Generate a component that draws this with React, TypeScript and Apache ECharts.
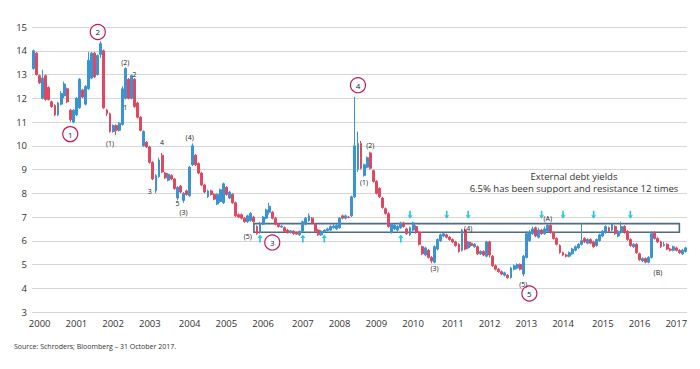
import React, { useEffect, useRef } from "react";
import * as echarts from "echarts";

// Monthly candles [open, close, low, high], Jan 2000 – Oct 2017
const y2000 = [
  [13.25, 14.0, 13.2, 14.05], [13.9, 13.0, 12.95, 13.95], [12.95, 12.65, 12.6, 13.0], [12.0, 12.85, 11.95, 13.2],
  [12.95, 11.95, 11.9, 13.0], [12.45, 11.95, 11.9, 12.5], [11.85, 11.65, 11.6, 11.9], [11.7, 11.3, 11.25, 11.75],
  [11.3, 11.8, 11.25, 11.85], [11.75, 12.2, 11.7, 12.3], [12.1, 12.6, 12.0, 12.7], [12.4, 11.85, 11.8, 12.45],
];
const y2001 = [
  [11.5, 11.1, 11.0, 11.55], [11.0, 11.5, 10.95, 11.55], [11.3, 12.0, 11.25, 12.05], [11.6, 12.8, 11.55, 12.85],
  [12.35, 12.05, 12.0, 12.4], [11.75, 12.5, 11.7, 12.55], [12.4, 13.6, 12.35, 13.95], [12.85, 13.9, 12.8, 13.95],
  [13.9, 12.9, 12.85, 13.95], [13.0, 13.8, 12.95, 13.85], [13.85, 14.3, 13.7, 14.4], [14.0, 11.6, 11.55, 14.05],
];
const y2002 = [
  [11.5, 11.35, 11.25, 11.55], [11.35, 10.6, 10.55, 11.4], [10.6, 10.85, 10.55, 10.9], [10.85, 10.65, 10.45, 10.9],
  [10.65, 10.95, 10.6, 11.0], [10.9, 12.4, 10.85, 12.5], [12.0, 13.25, 11.95, 13.3], [12.8, 12.0, 11.95, 12.85],
  [12.0, 12.95, 11.95, 13.0], [12.8, 11.65, 11.6, 12.85], [11.8, 11.2, 11.15, 11.85], [11.2, 10.65, 10.6, 11.25],
];
const y2003 = [
  [10.0, 10.6, 9.95, 10.65], [10.15, 9.95, 9.9, 10.2], [9.95, 9.3, 9.25, 10.0], [9.3, 8.6, 8.55, 9.35],
  [8.1, 8.75, 8.0, 8.8], [8.7, 9.4, 8.65, 9.5], [9.6, 8.9, 8.85, 9.7], [8.85, 8.65, 8.6, 8.9],
  [8.55, 8.8, 8.5, 8.85], [8.75, 8.6, 8.55, 8.8], [8.6, 8.2, 8.15, 8.65], [7.8, 8.25, 7.7, 8.3],
];
const y2004 = [
  [8.3, 8.05, 8.0, 8.35], [7.7, 8.0, 7.6, 8.05], [8.1, 7.95, 7.9, 8.15], [7.9, 9.1, 7.85, 9.15],
  [9.2, 10.0, 9.15, 10.1], [9.6, 9.2, 9.15, 9.65], [9.25, 8.85, 8.8, 9.3], [8.85, 8.35, 8.3, 8.9],
  [8.35, 8.05, 8.0, 8.4], [7.85, 8.1, 7.8, 8.15], [8.1, 7.95, 7.9, 8.15], [7.95, 7.75, 7.7, 8.0],
];
const y2005 = [
  [7.55, 7.95, 7.5, 8.0], [7.65, 8.15, 7.6, 8.2], [7.6, 8.4, 7.55, 8.45], [8.25, 7.95, 7.9, 8.3],
  [7.8, 8.05, 7.75, 8.1], [7.95, 7.6, 7.55, 8.0], [7.6, 7.05, 7.0, 7.65], [7.1, 7.0, 6.95, 7.15],
  [7.1, 6.95, 6.9, 7.15], [6.95, 6.8, 6.75, 7.0], [6.8, 7.05, 6.75, 7.1], [6.85, 7.15, 6.8, 7.2],
];
const y2006 = [
  [7.0, 6.8, 6.75, 7.05], [6.6, 6.3, 6.25, 6.65], [6.35, 6.75, 6.3, 6.8], [6.7, 7.0, 6.65, 7.05],
  [6.95, 7.3, 6.9, 7.35], [7.2, 7.45, 7.1, 7.6], [7.2, 6.95, 6.9, 7.25], [6.95, 6.7, 6.65, 7.0],
  [6.7, 6.6, 6.55, 6.75], [6.58, 6.62, 6.55, 6.65], [6.55, 6.4, 6.35, 6.6], [6.45, 6.35, 6.3, 6.5],
];
const y2007 = [
  [6.35, 6.42, 6.3, 6.45], [6.4, 6.3, 6.25, 6.45], [6.35, 6.28, 6.25, 6.38], [6.25, 6.4, 6.2, 6.42],
  [6.4, 6.8, 6.35, 6.85], [6.7, 6.95, 6.65, 7.0], [6.85, 7.05, 6.8, 7.15], [6.95, 6.75, 6.7, 7.0],
  [6.7, 6.4, 6.35, 6.75], [6.45, 6.25, 6.2, 6.5], [6.25, 6.4, 6.2, 6.45], [6.38, 6.45, 6.35, 6.48],
];
const y2008 = [
  [6.42, 6.5, 6.4, 6.55], [6.45, 6.6, 6.4, 6.65], [6.55, 6.62, 6.5, 6.7], [6.5, 6.65, 6.45, 6.7],
  [6.55, 6.95, 6.5, 7.0], [7.05, 6.95, 6.9, 7.1], [6.95, 7.05, 6.9, 7.1], [7.0, 6.98, 6.95, 7.05],
  [7.05, 7.85, 7.0, 7.9], [7.85, 10.0, 7.8, 12.05], [9.0, 10.1, 8.9, 10.6], [10.1, 9.05, 9.0, 10.2],
];
const y2009 = [
  [8.75, 9.2, 8.7, 9.25], [9.1, 9.5, 9.05, 9.55], [9.7, 9.05, 9.0, 9.75], [8.95, 8.5, 8.45, 9.0],
  [8.5, 8.0, 7.95, 8.55], [8.2, 7.85, 7.8, 8.25], [7.8, 7.4, 7.35, 7.85], [7.35, 7.15, 7.1, 7.4],
  [7.14, 6.6, 6.55, 7.2], [6.35, 6.7, 6.3, 6.75], [6.5, 6.65, 6.45, 6.7], [6.45, 6.6, 6.4, 6.65],
];
const y2010 = [
  [6.55, 6.75, 6.5, 6.8], [6.75, 6.6, 6.55, 6.8], [6.5, 6.3, 6.25, 6.55], [6.25, 6.55, 6.2, 6.6],
  [6.45, 6.75, 6.4, 6.8], [6.6, 6.35, 6.3, 6.65], [6.35, 5.85, 5.8, 6.4], [5.75, 5.45, 5.4, 5.8],
  [5.4, 5.7, 5.35, 5.75], [5.6, 5.3, 5.25, 5.65], [5.3, 5.15, 5.05, 5.35], [5.1, 5.75, 5.05, 5.8],
];
const y2011 = [
  [5.65, 6.05, 5.6, 6.1], [6.0, 6.25, 5.95, 6.3], [6.2, 6.3, 6.15, 6.35], [6.25, 6.15, 6.1, 6.3],
  [6.15, 6.05, 6.0, 6.2], [6.05, 5.95, 5.9, 6.1], [5.95, 5.8, 5.75, 6.0], [5.85, 5.55, 5.5, 5.9],
  [5.6, 6.45, 5.55, 6.5], [6.45, 5.65, 5.6, 6.5], [5.7, 5.95, 5.65, 6.0], [5.9, 5.8, 5.75, 5.95],
];
const y2012 = [
  [5.75, 5.85, 5.7, 5.9], [5.75, 5.45, 5.4, 5.8], [5.45, 5.55, 5.4, 5.6], [5.55, 5.4, 5.35, 5.6],
  [5.35, 5.95, 5.3, 6.0], [5.95, 5.4, 5.3, 6.0], [5.35, 4.95, 4.9, 5.4], [4.95, 4.8, 4.75, 5.0],
  [4.8, 4.7, 4.65, 4.85], [4.7, 4.6, 4.55, 4.75], [4.55, 4.65, 4.5, 4.7], [4.55, 4.45, 4.4, 4.6],
];
const y2013 = [
  [4.45, 4.85, 4.4, 4.9], [4.8, 4.95, 4.75, 5.0], [4.85, 5.0, 4.8, 5.05], [5.0, 4.8, 4.75, 5.05],
  [4.6, 5.35, 4.5, 5.4], [5.3, 6.3, 5.25, 6.4], [6.0, 6.35, 5.95, 6.45], [6.3, 6.5, 6.25, 6.6],
  [6.55, 6.2, 6.15, 6.6], [6.15, 6.45, 6.1, 6.55], [6.45, 6.3, 6.25, 6.5], [6.3, 6.5, 6.25, 6.6],
];
const y2014 = [
  [6.4, 6.65, 6.35, 6.7], [6.65, 6.35, 6.3, 6.7], [6.35, 6.1, 6.05, 6.4], [6.1, 5.85, 5.8, 6.15],
  [5.8, 5.5, 5.45, 5.85], [5.5, 5.4, 5.35, 5.55], [5.4, 5.35, 5.3, 5.45], [5.35, 5.5, 5.3, 5.55],
  [5.45, 5.65, 5.4, 5.7], [5.6, 5.75, 5.55, 5.8], [5.7, 5.85, 5.65, 5.9], [5.85, 6.0, 5.8, 6.72],
];
const y2015 = [
  [6.1, 5.95, 5.9, 6.15], [5.9, 6.05, 5.85, 6.1], [6.05, 5.9, 5.85, 6.1], [5.95, 5.75, 5.7, 6.0],
  [5.8, 6.05, 5.75, 6.1], [6.0, 6.25, 5.95, 6.3], [6.2, 6.4, 6.15, 6.45], [6.35, 6.6, 6.3, 6.65],
  [6.55, 6.4, 6.35, 6.6], [6.45, 6.7, 6.4, 6.75], [6.6, 6.3, 6.25, 6.65], [6.2, 6.4, 6.15, 6.45],
];
const y2016 = [
  [6.35, 6.6, 6.3, 6.8], [6.6, 6.35, 6.3, 6.65], [6.4, 6.05, 6.0, 6.45], [6.05, 5.8, 5.75, 6.1],
  [5.75, 5.85, 5.7, 5.9], [5.85, 5.5, 5.45, 5.9], [5.45, 5.2, 5.15, 5.5], [5.15, 5.25, 5.1, 5.3],
  [5.25, 5.1, 5.05, 5.3], [5.1, 5.3, 5.05, 5.35], [5.3, 6.3, 5.25, 6.4], [6.35, 6.1, 6.05, 6.4],
];
const y2017 = [
  [6.1, 5.95, 5.9, 6.15], [5.95, 5.75, 5.7, 6.0], [5.8, 5.85, 5.75, 5.95], [5.85, 5.65, 5.6, 5.9],
  [5.65, 5.6, 5.55, 5.7], [5.6, 5.75, 5.55, 5.8], [5.7, 5.6, 5.55, 5.75], [5.6, 5.5, 5.45, 5.65],
  [5.45, 5.6, 5.4, 5.65], [5.55, 5.7, 5.5, 5.75],
];

const yearLabels = ["2000","2001","2002","2003","2004","2005","2006","2007","2008","2009","2010","2011","2012","2013","2014","2015","2016","2017"];
const yearLabelAt = [2, 14, 26, 38, 51, 63, 75, 88, 100, 112, 124, 137, 149, 161, 173, 186, 198, 210];

const circleNotes: [string, number, string][] = [
  ["2001-01", 10.49, "1"], ["2001-10", 14.79, "2"], ["2006-07", 5.93, "3"], ["2008-11", 12.55, "4"], ["2013-07", 3.78, "5"],
];
const textNotes: [string, number, string][] = [
  ["2002-02", 10.1, "(1)"], ["2002-07", 13.5, "(2)"], ["2002-07", 11.6, "1"], ["2002-10", 13.0, "2"],
  ["2003-03", 8.08, "3"], ["2003-07", 10.15, "4"], ["2003-12", 7.57, "5"], ["2004-02", 7.2, "(3)"],
  ["2004-04", 10.36, "(4)"], ["2005-11", 6.18, "(5)"], ["2009-01", 8.46, "(1)"], ["2009-03", 10.02, "(2)"],
  ["2011-11", 6.52, "(4)"], ["2010-12", 4.83, "(3)"], ["2013-05", 4.16, "(5)"], ["2014-01", 6.94, "(A)"],
  ["2017-01", 4.66, "(B)"],
];
const supportArrows = ["2006-03", "2007-05", "2007-12", "2010-01"];
const resistanceArrows = ["2010-04", "2011-04", "2011-11", "2013-11", "2014-06", "2015-04", "2016-04"];
const bandLow = 6.36;
const bandHigh = 6.72;
const bandStart = "2006-01";
const bandEnd = "2017-08";

const UP = "#3a93d3";
const DOWN = "#e0485f";
const ARROW = "#25c9e1";
const FONT = "Open Sans";

export default function App() {
  const ref = useRef<HTMLDivElement>(null);
  useEffect(() => {
    if (!ref.current) return;
    const chart = echarts.init(ref.current, null, { renderer: "svg" });
    const ohlc = [...y2000, ...y2001, ...y2002, ...y2003, ...y2004, ...y2005, ...y2006, ...y2007, ...y2008,
      ...y2009, ...y2010, ...y2011, ...y2012, ...y2013, ...y2014, ...y2015, ...y2016, ...y2017];
    const months: string[] = [];
    for (let k = 0; k < ohlc.length; k++) {
      const yr = 2000 + Math.floor(k / 12);
      const m = (k % 12) + 1;
      months.push(`${yr}-${m < 10 ? "0" + m : m}`);
    }
    const labelMap: Record<number, string> = {};
    yearLabelAt.forEach((idx, j) => (labelMap[idx] = yearLabels[j]));

    const upPath = "path://M3,0 L6,3.5 L4,3.5 L4,8 L2,8 L2,3.5 L0,3.5 Z";
    const downPath = "path://M3,8 L6,4.5 L4,4.5 L4,0 L2,0 L2,4.5 L0,4.5 Z";

    const markPoints: any[] = [];
    circleNotes.forEach(([c, v, t]) =>
      markPoints.push({
        coord: [c, v], symbol: "circle", symbolSize: 15,
        itemStyle: { color: "#ffffff", borderColor: "#c2185b", borderWidth: 1.2 },
        label: { show: true, position: "inside", formatter: t, color: "#222", fontSize: 8, fontFamily: FONT },
      })
    );
    textNotes.forEach(([c, v, t]) =>
      markPoints.push({
        coord: [c, v], symbol: "circle", symbolSize: 1,
        itemStyle: { color: "rgba(0,0,0,0)" },
        label: { show: true, position: "inside", formatter: t, color: "#222", fontSize: 7, fontFamily: FONT },
      })
    );
    supportArrows.forEach((c) =>
      markPoints.push({ coord: [c, 6.1], symbol: upPath, symbolSize: [5, 8], itemStyle: { color: ARROW }, label: { show: false } })
    );
    resistanceArrows.forEach((c) =>
      markPoints.push({ coord: [c, 7.09], symbol: downPath, symbolSize: [5, 8], itemStyle: { color: ARROW }, label: { show: false } })
    );

    chart.setOption({
      animation: false,
      grid: { left: 32, right: 13, top: 27, bottom: 57 },
      xAxis: {
        type: "category",
        data: months,
        boundaryGap: true,
        axisLine: { show: false },
        axisTick: { show: false },
        splitLine: { show: false },
        axisLabel: {
          interval: (i: number) => labelMap[i] !== undefined,
          formatter: (_v: string, i: number) => labelMap[i] ?? "",
          color: "#333", fontSize: 9.5, fontFamily: FONT, margin: 6,
        },
      },
      yAxis: {
        type: "value", min: 3, max: 15, interval: 1,
        axisLine: { show: false }, axisTick: { show: false },
        axisLabel: { color: "#333", fontSize: 9.5, fontFamily: FONT, margin: 5 },
        splitLine: { lineStyle: { color: "#d6d6d6", width: 1.2 } },
      },
      series: [
        {
          type: "candlestick",
          data: ohlc,
          barWidth: 2.4,
          itemStyle: { color: UP, color0: DOWN, borderColor: UP, borderColor0: DOWN, borderWidth: 1 },
          markArea: {
            silent: true,
            itemStyle: { color: "rgba(0,0,0,0)", borderColor: "#4d6b8a", borderWidth: 1.6 },
            data: [[{ xAxis: bandStart, yAxis: bandHigh }, { xAxis: bandEnd, yAxis: bandLow }]],
          },
          markPoint: { silent: true, data: markPoints },
        },
      ],
      graphic: [
        { type: "text", x: 574, y: 176, style: { text: "External debt yields", fill: "#333", fontSize: 9.5, fontFamily: FONT, align: "center", verticalAlign: "middle" } },
        { type: "text", x: 574, y: 188, style: { text: "6.5% has been support and resistance 12 times", fill: "#333", fontSize: 9.5, fontFamily: FONT, align: "center", verticalAlign: "middle" } },
        { type: "text", x: 14, y: 346, style: { text: "Source: Schroders; Bloomberg \u2013 31 October 2017.", fill: "#333", fontSize: 7, fontFamily: FONT, align: "left", verticalAlign: "middle" } },
      ],
    });
    return () => chart.dispose();
  }, []);
  return <div ref={ref} style={{ width: 700, height: 369, margin: -8 }} />;
}
